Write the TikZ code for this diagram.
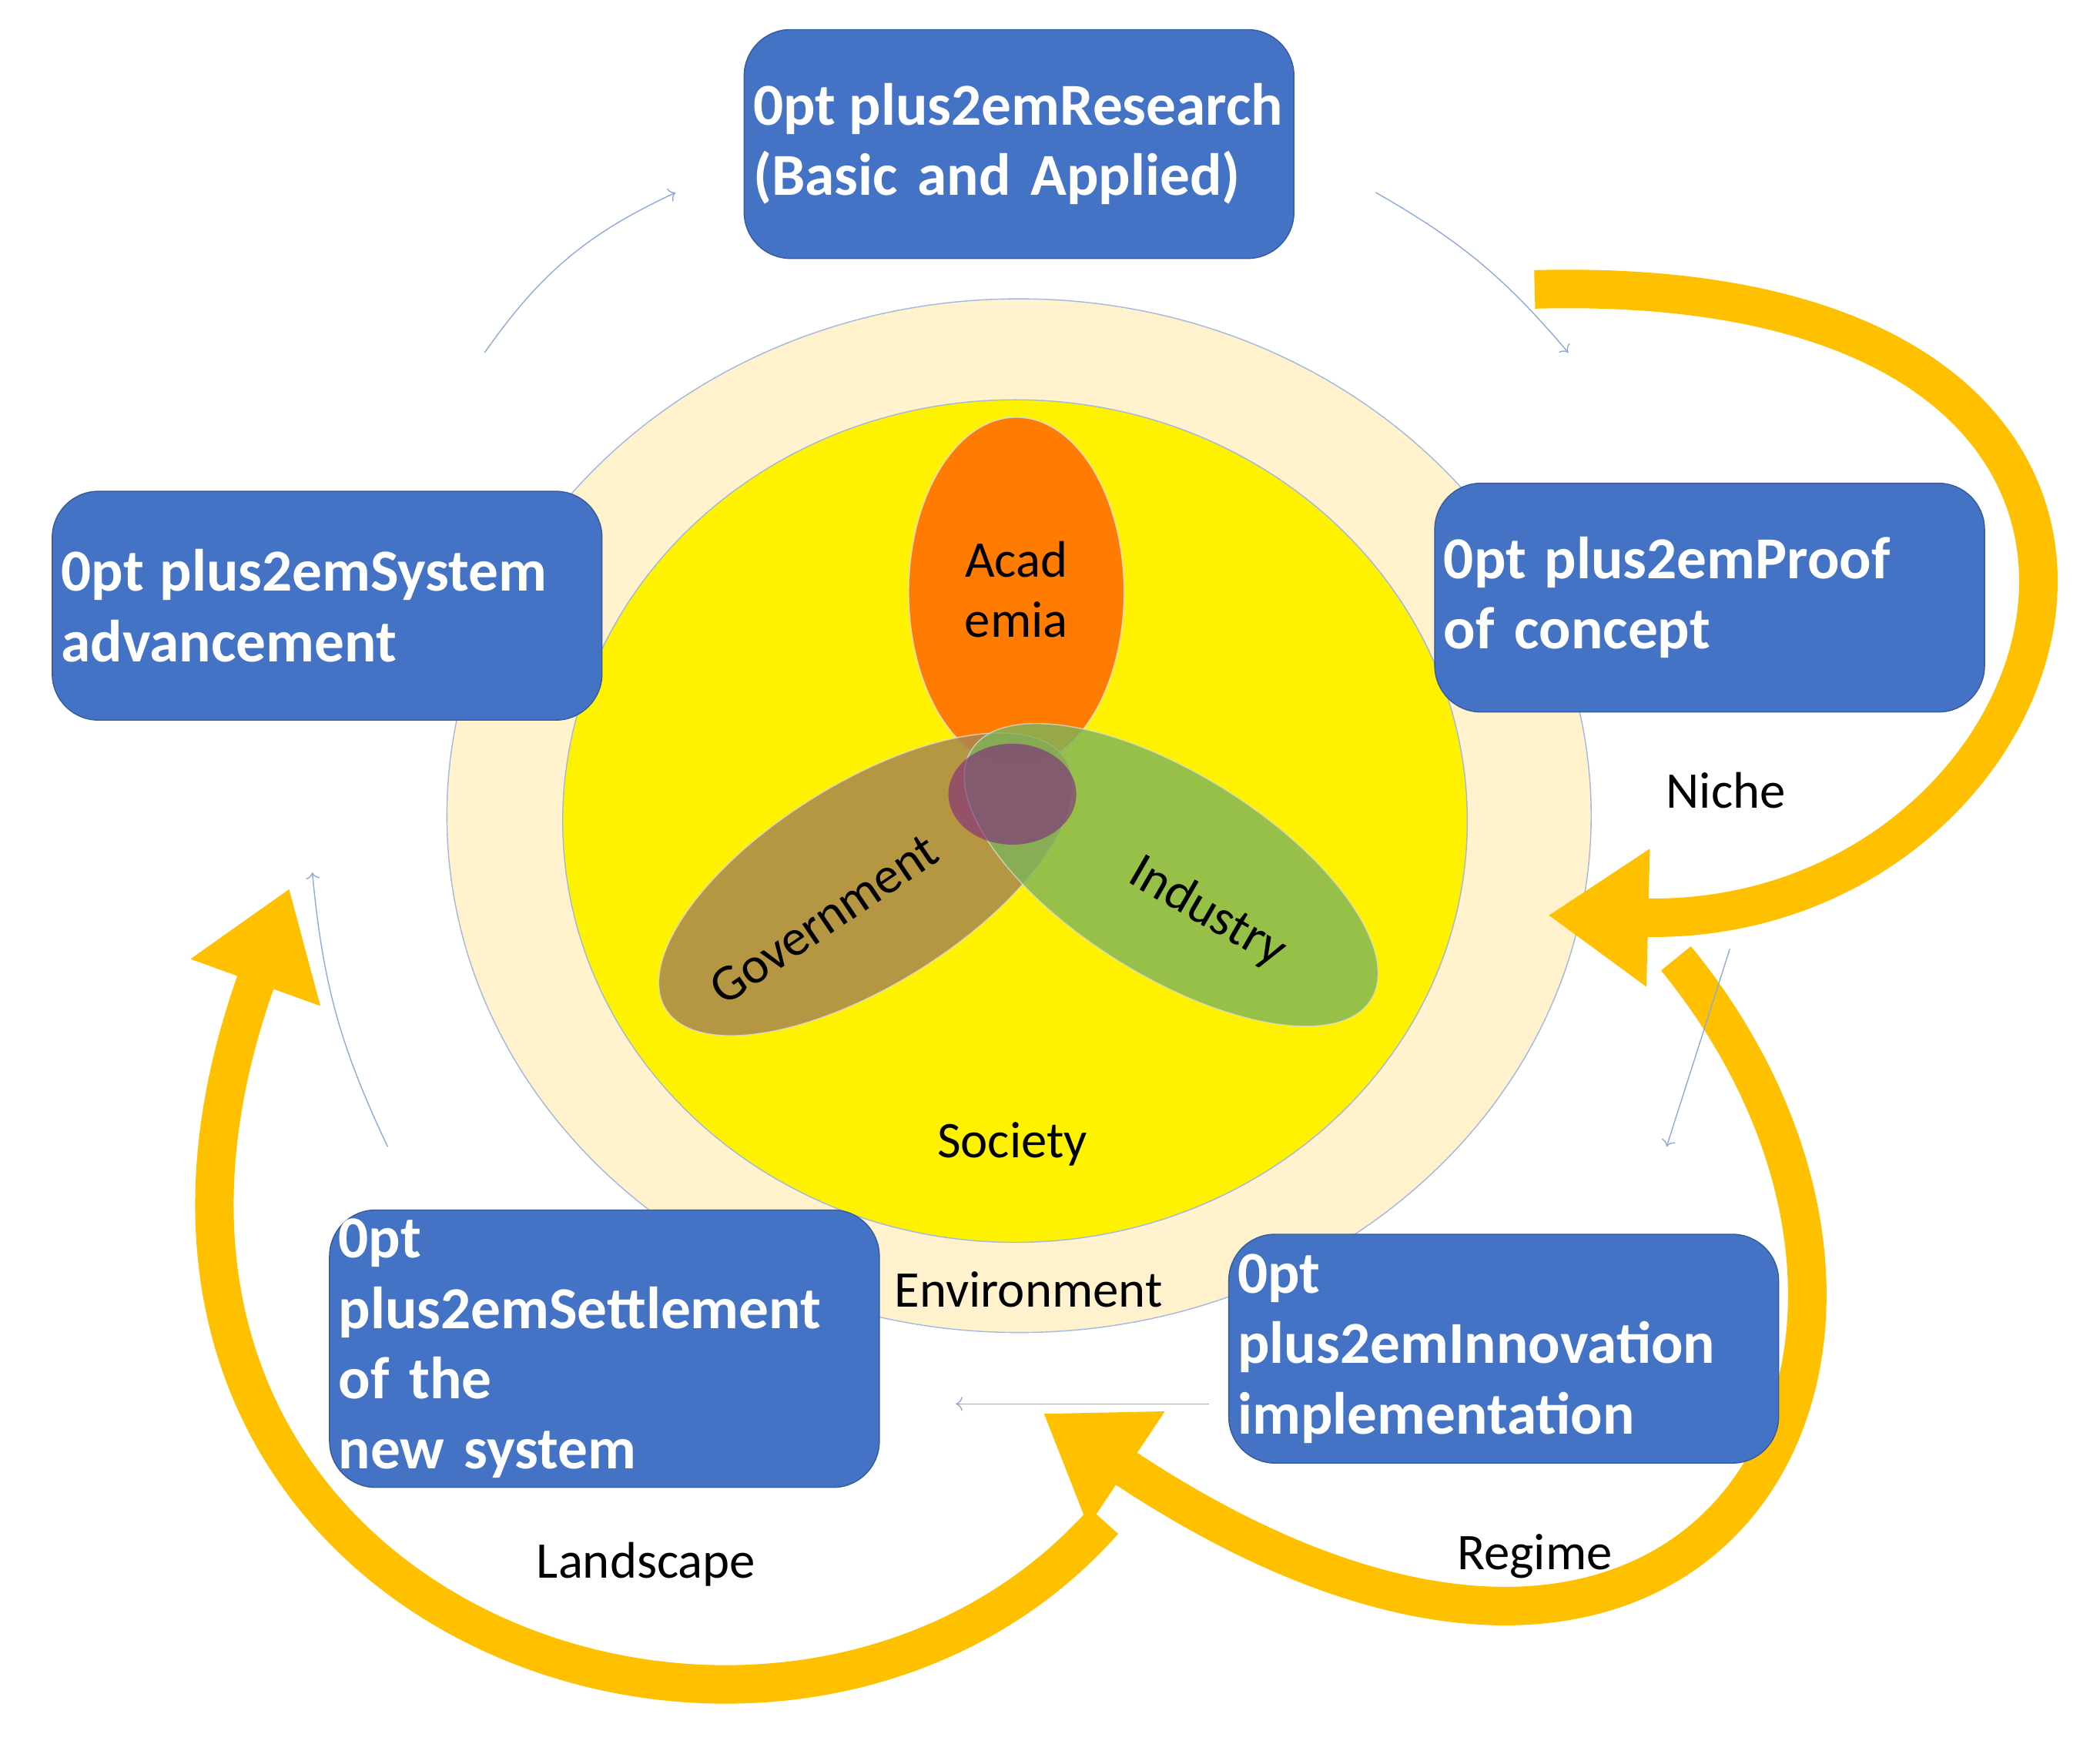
\documentclass[tikz,border=0pt]{standalone}
\usepackage{fontspec}
\setmainfont{Carlito}
\usetikzlibrary{shapes.geometric, arrows.meta, positioning}
\definecolor{boxblue}{HTML}{4472C4}
\definecolor{envcol}{HTML}{FFF2CC}
\definecolor{gold}{HTML}{FFC000}
\definecolor{govcol}{HTML}{A9864E}
\definecolor{indcol}{HTML}{7CB45A}
\definecolor{acadcol}{HTML}{FF7C00}
\def\u{0.01748cm}
\begin{document}
\begin{tikzpicture}[x=0.01748cm, y=-0.01748cm,
    stage/.style={rectangle, rounded corners=0.6cm, fill=boxblue, draw=boxblue!80!black,
      minimum width=405*\u, minimum height=170*\u, text width=395*\u, align=center,
      text=white, font=\fontsize{22}{26}\selectfont\bfseries\hyphenpenalty=10000},
    blob/.style={ellipse, draw=white!70!gray, minimum width=350*\u, minimum height=150*\u},
    lbl/.style={font=\fontsize{19}{22}\selectfont},
    cycle/.style={->, draw=boxblue!60},
    bigarrow/.style={draw=gold, line width=0.5cm, -{Triangle[width=1.7cm,length=1.3cm]}}
]
\useasboundingbox (0,0) rectangle (1560,1310);
% rings
\fill[envcol, draw=boxblue!50] (757,606) ellipse [x radius=425*\u, y radius=384*\u];
\fill[yellow, draw=boxblue!50] (754,610) ellipse [x radius=336*\u, y radius=313*\u];
% triple helix
\node[blob, fill=acadcol, minimum width=160*\u, minimum height=260*\u] (acad) at (755,440) {};
\node[blob, fill=govcol, opacity=0.85, rotate=32] (gov) at (643,657) {};
\node[blob, fill=indcol, opacity=0.8, rotate=-32] (ind) at (870,650) {};
\node[ellipse, fill=violet!70!gray, opacity=0.6, minimum width=95*\u, minimum height=75*\u] (core) at (752,590) {};
\node[lbl, align=center] (acadt) at (755,438) {Acad\\emia};
\node[lbl, rotate=34] (govt) at (612,683) {Government};
\node[lbl, rotate=-30] (indt) at (897,678) {Industry};
\node[lbl] (society) at (752,850) {Society};
\node[lbl] (env) at (764,958) {Environment};
% big arrows
\coordinate (n0) at (1140,215);
\coordinate (n1) at (1150,680);
\coordinate (r0) at (1245,712);
\coordinate (r1) at (775,1050);
\coordinate (l0) at (820,1130);
\coordinate (l1) at (215,660);
\draw[bigarrow] (n0) .. controls (1700,200) and (1550,690) .. (n1);
\draw[bigarrow] (r0) .. controls (1480,1000) and (1270,1380) .. (r1);
\draw[bigarrow] (l0) .. controls (580,1400) and (20,1200) .. (l1);
% stages
\node[stage] (research) at (757,107) {Research (Basic and Applied)};
\node[stage] (sysadv) at (243,450) {System\\advancement};
\node[stage] (proof) at (1270,444) {Proof of concept};
\node[stage] (settle) at (449,1002) {Settlement of the\\new system};
\node[stage] (innov) at (1117,1002) {Innovation\\implementation};
\node[lbl] (niche) at (1282,587) {Niche};
\node[lbl] (land) at (480,1162) {Landscape};
\node[lbl] (regime) at (1140,1156) {Regime};
% cycle
\coordinate (t0) at (360,262); \coordinate (t1) at (502,143);
\coordinate (t2) at (1022,143); \coordinate (t3) at (1165,262);
\coordinate (t4) at (1285,705); \coordinate (t5) at (1238,852);
\coordinate (t6) at (898,1043); \coordinate (t7) at (710,1043);
\coordinate (t8) at (288,852); \coordinate (t9) at (232,648);
\draw[cycle] (t0) to[bend left=15] (t1);
\draw[cycle] (t2) to[bend left=10] (t3);
\draw[cycle] (t4) -- (t5);
\draw[cycle] (t6) -- (t7);
\draw[cycle] (t8) to[bend left=10] (t9);
\end{tikzpicture}
\end{document}
